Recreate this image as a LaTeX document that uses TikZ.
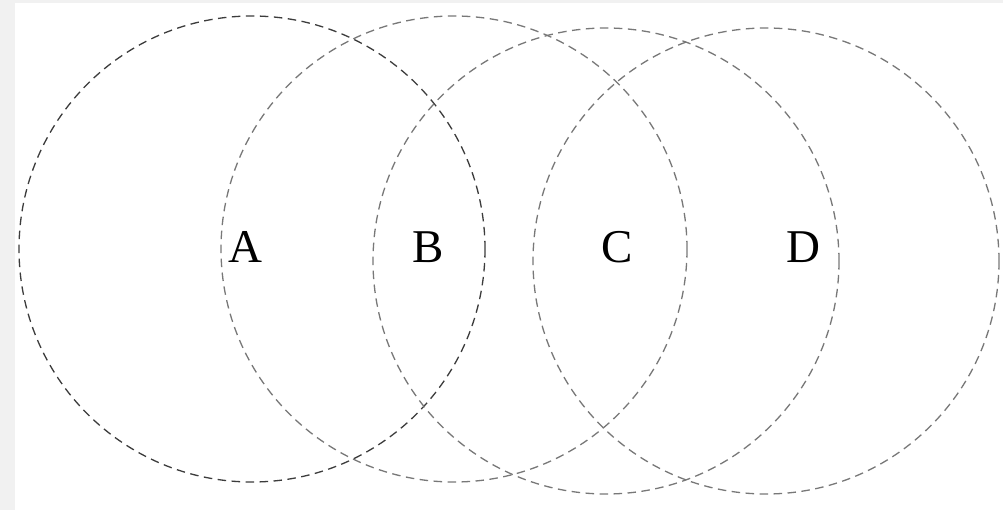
\documentclass[tikz,border=0pt]{standalone}
\usepackage{fontspec}
\setmainfont{Liberation Serif}
\usetikzlibrary{calc}
\definecolor{ringA}{RGB}{60,60,60}
\definecolor{ringB}{RGB}{120,120,120}
\definecolor{edgeStrip}{RGB}{241,241,241}
\tikzset{
  vennring/.style={line width=1.3pt, dash pattern=on 8.5pt off 5.5pt},
  vennlabel/.style={font=\fontsize{47}{47}\selectfont, inner sep=0pt}
}

\begin{document}
\begin{tikzpicture}[x=1pt, y=-1pt]
    \useasboundingbox (0,0) rectangle (1003,510);
    \fill[edgeStrip] (0,0) rectangle (1003,510);
    \fill[white] (15,3) rectangle (1003,510);

    \def\R{233}
    \coordinate (CA) at (252,249);
    \coordinate (CB) at (454,249);
    \coordinate (CC) at (606,261);
    \coordinate (CD) at (766,261);

    \draw[vennring, ringA] (CA) circle (\R);
    \draw[vennring, ringB] (CB) circle (\R);
    \draw[vennring, ringB] (CC) circle (\R);
    \draw[vennring, ringB] (CD) circle (\R);

    \node[vennlabel] (A) at (245,247) {A};
    \node[vennlabel] (B) at (428,247) {B};
    \node[vennlabel] (C) at (617,247) {C};
    \node[vennlabel] (D) at (803,247) {D};
  \end{tikzpicture}
\end{document}
